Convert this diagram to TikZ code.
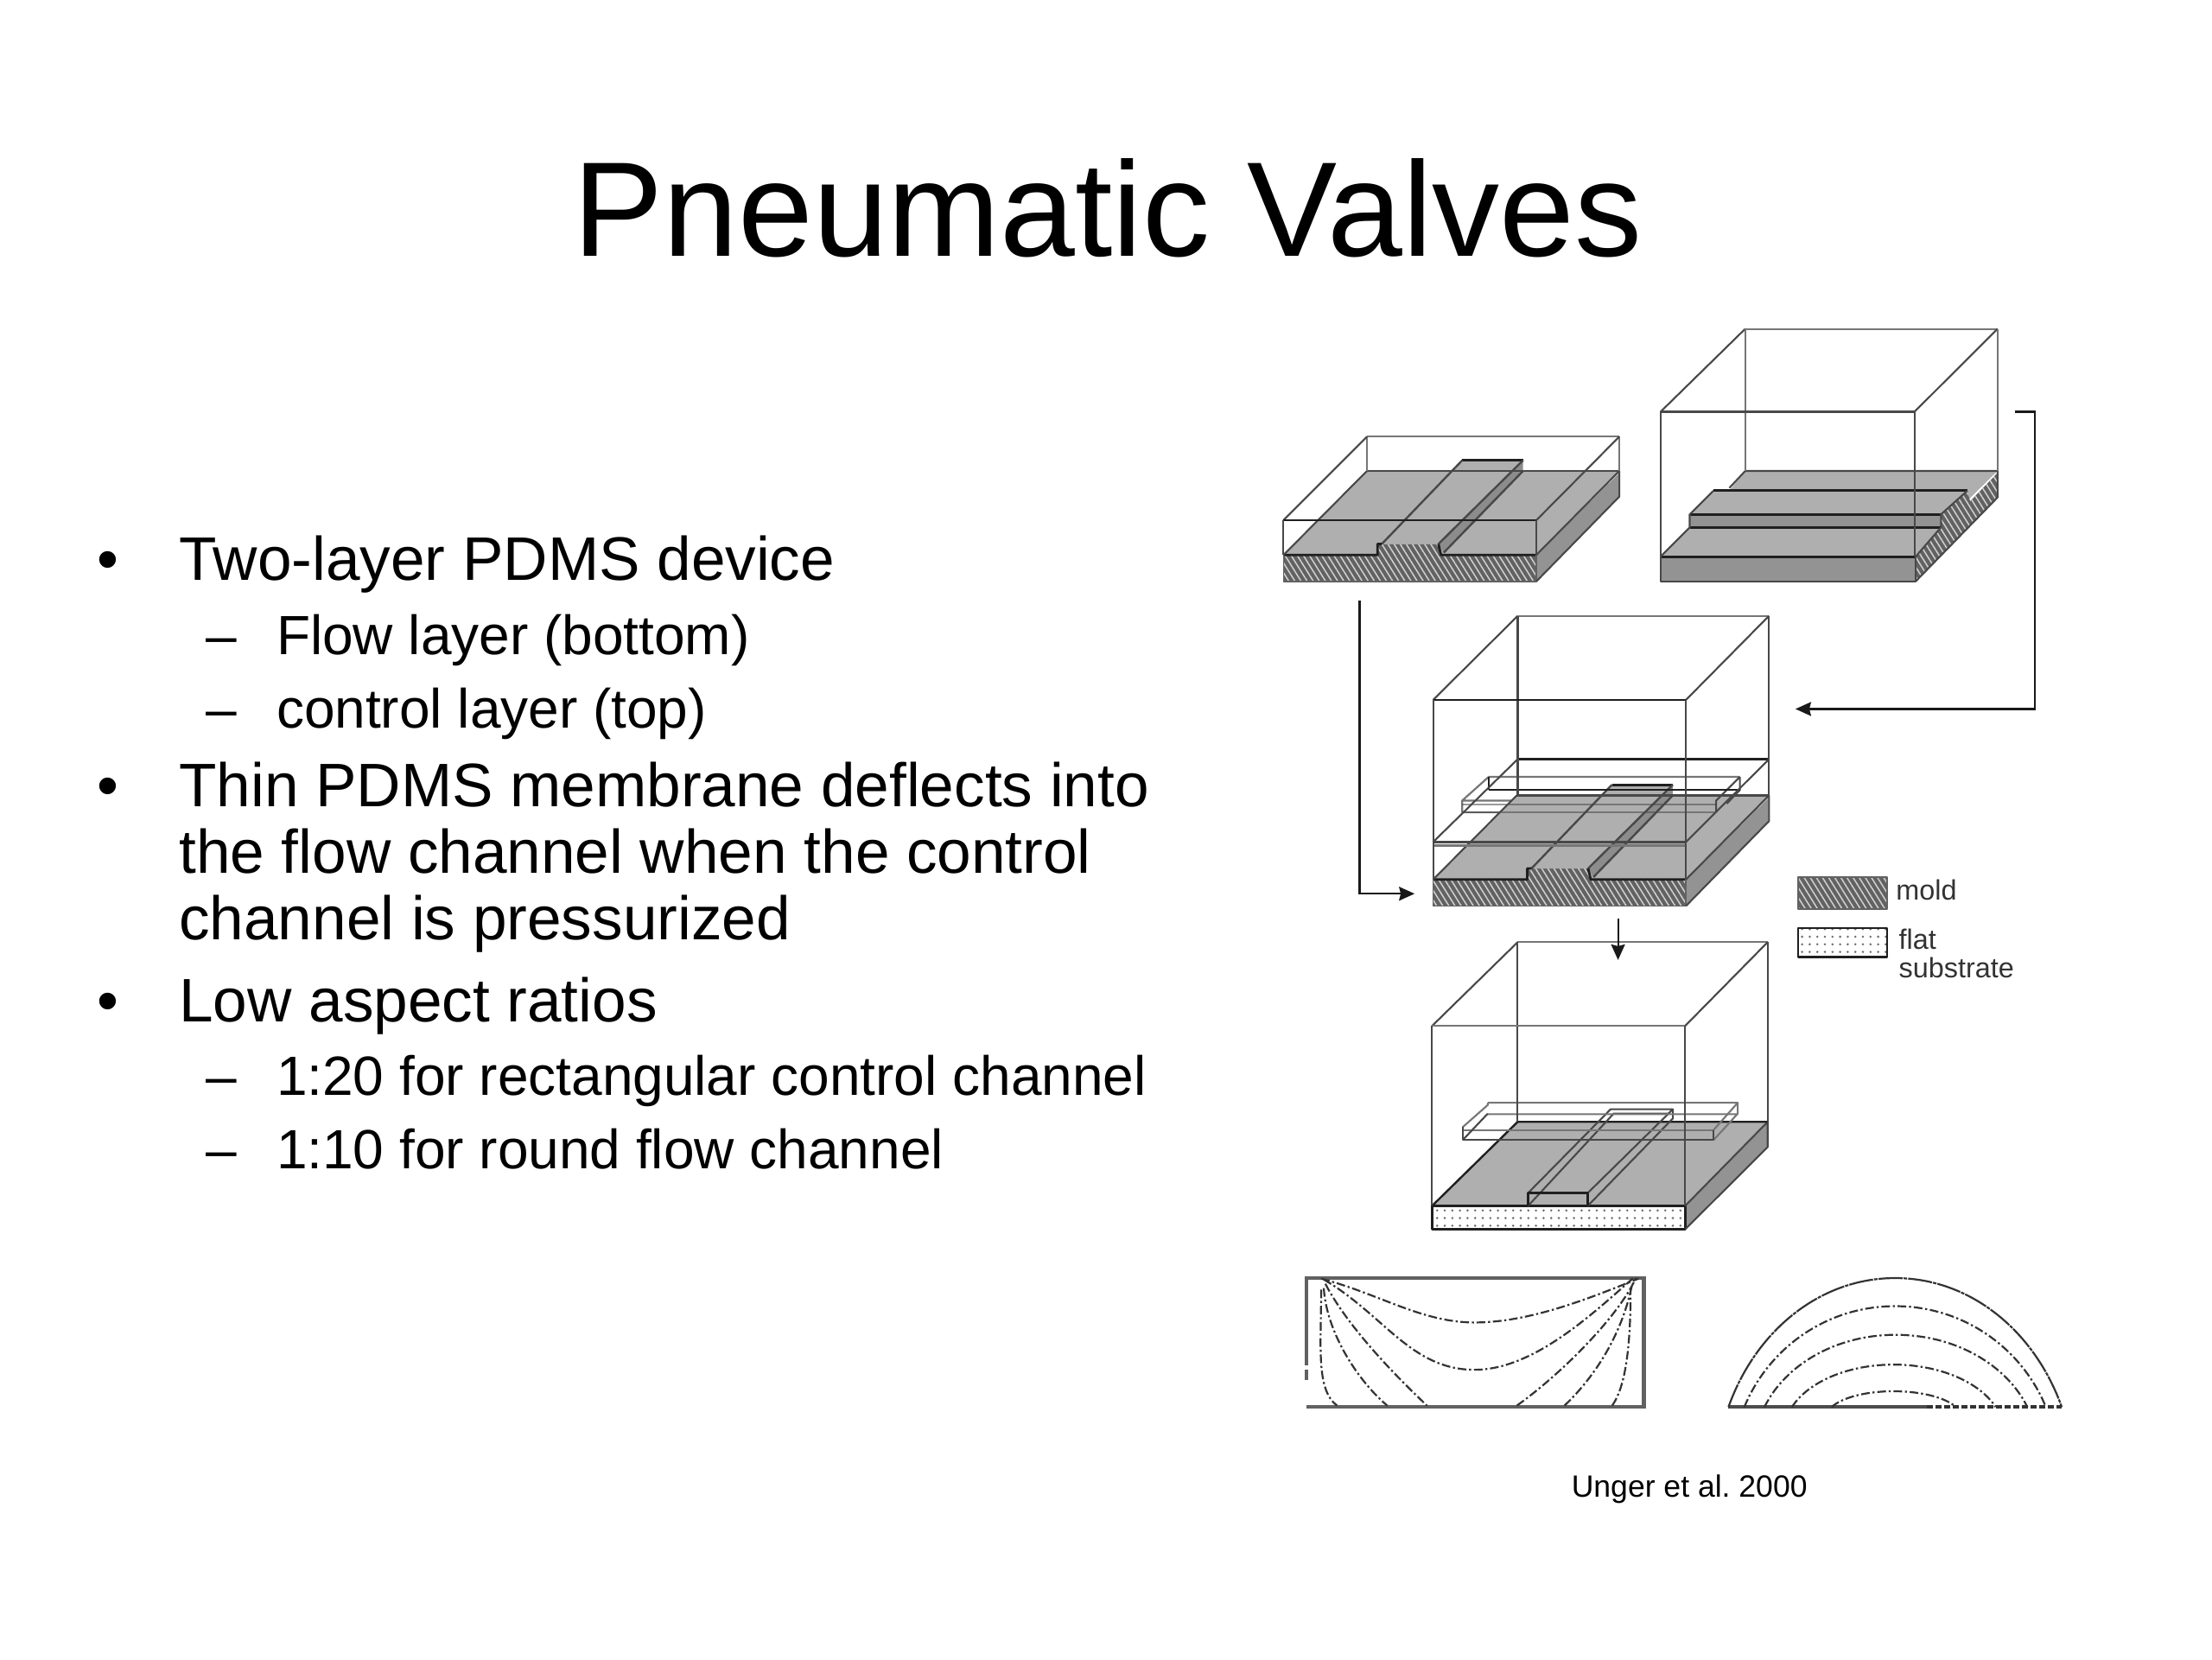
\documentclass[tikz,border=0pt]{standalone}
\usepackage{fontspec}
\setmainfont{Liberation Sans}
\usetikzlibrary{patterns.meta,arrows.meta}
\definecolor{topg}{HTML}{AFAFAF}
\definecolor{sideg}{HTML}{939393}
\definecolor{darkg}{HTML}{8C8C8C}
\definecolor{wireg}{HTML}{484848}
\definecolor{moldg}{HTML}{626262}
\tikzset{
  txt/.style={anchor=base west,inner sep=0pt,outer sep=0pt,text=black},
  titletxt/.style={txt,font=\fontsize{78}{90}\selectfont},
  bodytxt/.style={txt,font=\fontsize{35.56}{42}\selectfont},
  subtxt/.style={txt,font=\fontsize{32}{38}\selectfont},
  captxt/.style={txt,font=\fontsize{17.78}{21}\selectfont\frenchspacing},
  legtxt/.style={txt,font=\fontsize{16.2}{19}\selectfont,text=black!80},
  zoneA/.style={shift={(894,220.5)},x=0.3061pt,y=-0.2284pt},
  zoneB/.style={shift={(980,613)},x=0.2538pt,y=-0.1658pt},
  zoneC/.style={shift={(906.5,893.7)},x=0.3061pt,y=-0.1658pt},
  wire/.style={draw=wireg,line width=1.05pt,line join=round},
  wirelight/.style={draw=wireg!75,line width=1.05pt,line join=round},
  edge/.style={draw=black!88,line width=1.4pt,line join=round},
  topface/.style={fill=topg},
  sideface/.style={fill=sideg},
  moldhatch/.style={pattern={Lines[angle=-58,distance=3pt,line width=0.75pt]},pattern color=white!82!black},
  flatdots/.style={pattern={Dots[radius=0.7pt,distance=4.4pt]},pattern color=black!58},
  conn/.style={draw=black!90,line width=1.05pt,-{Stealth[length=9pt,width=8pt,inset=1pt]}},
  flowline/.style={draw=black!80,line width=1.1pt,dash pattern=on 5pt off 1.6pt on 1.2pt off 1.6pt},
  wall/.style={draw=black!62,line width=2.2pt},
}
\newcommand{\mkmoldbase}{%
  \fill[topface] (200,405) -- (677,405) -- (520,618) -- (42,618) -- cycle;
  \fill[sideface] (520,618) -- (677,410) -- (677,470) -- (520,685) -- cycle;
  \fill[moldg] (42,618) -- (220,618) -- (220,590) -- (335,590) -- (340,618) -- (520,618) -- (520,685) -- (42,685) -- cycle;
  \fill[moldhatch] (42,618) -- (220,618) -- (220,590) -- (335,590) -- (340,618) -- (520,618) -- (520,685) -- (42,685) -- cycle;
  \fill[topface] (380,378) -- (495,378) -- (335,590) -- (228,590) -- cycle;
  \fill[darkg] (495,378) -- (495,405) -- (345,612) -- (335,590) -- cycle;
  \draw[wire] (200,405) -- (677,405);
  \draw[edge] (380,378) -- (495,378);
  \draw[wire,line width=1.2pt] (495,378) -- (335,590) (228,590) -- (380,378) (495,405) -- (345,612);
  \draw[edge] (42,618) -- (220,618) -- (220,590) -- (228,590) (335,590) -- (340,618) -- (520,618);
  \draw[wire,line width=0.8pt,draw=moldg] (42,618) -- (42,685) -- (520,685) -- (520,618);
  \draw[wire] (42,618) -- (200,405) (520,618) -- (677,405) (520,685) -- (677,470) -- (677,405);
}
\begin{document}
\begin{tikzpicture}[x=0.81633pt,y=-0.81633pt]
\useasboundingbox[fill=white] (0,0) rectangle (1568,1176);

% ---- texts
\node[titletxt] (title) at (406.5,181.5) {Pneumatic Valves};
\node[bodytxt] (b1) at (127,411) {Two-layer PDMS device};
\node[bodytxt] (b1m) at (69,411) {•};
\node[subtxt] (s1) at (196,464) {Flow layer (bottom)};
\node[subtxt] (s1m) at (146,464) {–};
\node[subtxt] (s2) at (196,516) {control layer (top)};
\node[subtxt] (s2m) at (146,516) {–};
\node[bodytxt] (b2) at (127,572) {Thin PDMS membrane deflects into};
\node[bodytxt] (b2m) at (69,572) {•};
\node[bodytxt] (b2b) at (127,619) {the flow channel when the control};
\node[bodytxt] (b2c) at (127,666) {channel is pressurized};
\node[bodytxt] (b3) at (127,724) {Low aspect ratios};
\node[bodytxt] (b3m) at (69,724) {•};
\node[subtxt] (s3) at (196,776.5) {1:20 for rectangular control channel};
\node[subtxt] (s3m) at (146,776.5) {–};
\node[subtxt] (s4) at (196,828.5) {1:10 for round flow channel};
\node[subtxt] (s4m) at (146,828.5) {–};
\node[captxt] (cap) at (1114,1061) {Unger et al. 2000};
\node[legtxt] (lg1) at (1344,638) {mold};
\node[legtxt] (lg2) at (1346,673) {flat};
\node[legtxt] (lg3) at (1346,693) {substrate};

% ---- upper left box and upper right box, middle box
\begin{scope}[zoneA]
  % box 1
  \mkmoldbase
  \draw[wirelight] (200,318) -- (677,318);
  \draw[wirelight] (200,318) -- (200,405) (677,318) -- (677,405);
  \draw[wire] (42,530) -- (200,318) (520,530) -- (677,318);
  \draw[edge,line width=1.1pt] (42,530) -- (520,530);
  \draw[wire] (42,530) -- (42,618) (520,530) -- (520,618);

  % box 2
  \fill[topface] (915,405) -- (1392,405) -- (1335,480) -- (1335,455) -- (885,455) -- cycle;
  \fill[sideface] (755,622) -- (1237,622) -- (1237,685) -- (755,685) -- cycle;
  \fill[moldg] (1237,685) -- (1392,472) -- (1392,410) -- (1340,482) -- (1335,455) -- (1285,515) -- (1285,548) -- (1235,622) -- cycle;
  \fill[moldhatch] (1237,685) -- (1392,472) -- (1392,410) -- (1340,482) -- (1335,455) -- (1285,515) -- (1285,548) -- (1235,622) -- cycle;
  \fill[topface] (855,455) -- (1335,455) -- (1285,515) -- (810,515) -- cycle;
  \fill[sideg] (810,515) -- (1285,515) -- (1285,548) -- (810,548) -- cycle;
  \fill[topface] (810,548) -- (1285,548) -- (1235,620) -- (755,620) -- cycle;
  \draw[wire] (915,405) -- (1392,405) (915,405) -- (885,448);
  \draw[edge] (855,455) -- (1335,455) (810,515) -- (1285,515) (810,548) -- (1285,548) (755,622) -- (1237,622);
  \draw[wire] (755,622) -- (755,685) -- (1237,685) -- (1237,622);
  \draw[wire] (855,455) -- (810,515) -- (810,548) -- (755,622);
  \draw[wire] (1335,455) -- (1285,515) -- (1285,548) -- (1237,622);
  \draw[wire] (1237,685) -- (1392,472) -- (1392,405);
  \draw[wirelight] (915,45) -- (1392,45);
  \draw[wire] (755,255) -- (915,45) (1235,255) -- (1392,45);
  \draw[wirelight] (915,45) -- (915,405) (1392,45) -- (1392,405);
  \draw[wire] (755,255) -- (1235,255);
  \draw[wire] (755,255) -- (755,622) (1235,255) -- (1235,622);

  % box 3: floating control slab (behind the mold)
  \draw[wirelight,line width=1.1pt] (430,1180) -- (905,1180) (380,1240) -- (860,1240) (380,1270) -- (860,1270) (430,1180) -- (380,1240) -- (380,1270);
  \begin{scope}[shift={(283,822)}]
    \mkmoldbase
  \end{scope}
  \draw[wire,draw opacity=0.55,line width=1.3pt] (380,1250) -- (860,1250) (380,1270) -- (860,1270);
  \draw[wire] (905,1180) -- (860,1240) -- (860,1270) (905,1180) -- (905,1213) -- (880,1248);
  \draw[edge,line width=1.2pt] (430,1213) -- (905,1213) (430,1180) -- (430,1213);
  \draw[edge] (485,1135) -- (960,1135);
  \draw[wire] (485,1135) -- (325,1345) (960,1135) -- (803,1345);
  \draw[wire,line width=1.3pt] (325,1345) -- (803,1345);
  \draw[wirelight] (325,1354) -- (803,1354);
  \draw[wirelight] (485,772) -- (960,772);
  \draw[wire] (325,985) -- (485,772) (803,985) -- (960,772);
  \draw[wire] (485,772) -- (485,1228) (960,772) -- (960,1228);
  \draw[edge,line width=1.1pt] (325,985) -- (803,985);
  \draw[wire] (325,985) -- (325,1440) (803,985) -- (803,1440);

  % connectors
  \coordinate (la) at (186,733);
  \coordinate (lb) at (186,1476);
  \coordinate (lc) at (290,1476);
  \coordinate (ra) at (1425,255);
  \coordinate (rb) at (1462,255);
  \coordinate (rc) at (1462,1008);
  \coordinate (rd) at (1010,1008);
  \draw[conn] (la) -- (lb) -- (lc);
  \draw[conn] (ra) -- (rb) -- (rc) -- (rd);
\end{scope}

% ---- lower box and legend
\begin{scope}[zoneB]
  \fill[topface] (308,897) -- (878,897) -- (690,1190) -- (113,1190) -- cycle;
  \fill[sideface] (690,1190) -- (878,897) -- (878,985) -- (690,1272) -- cycle;
  \fill[white] (113,1190) rectangle (690,1272);
  \fill[flatdots] (113,1190) rectangle (690,1272);
  \draw[edge] (113,1190) -- (690,1190) -- (690,1272) -- (113,1272) -- cycle;
  \draw[wire] (690,1272) -- (878,985) -- (878,897) -- (690,1190);
  \draw[edge,line width=1.2pt] (113,1190) -- (308,897) -- (878,897);
  % flow channel
  \draw[wire] (332,1145) -- (520,853) -- (662,853) -- (468,1145);
  \draw[wire] (332,1190) -- (527,868) -- (655,868) (468,1190) -- (662,885) -- (662,853);
  \draw[edge,line width=1.2pt] (332,1190) -- (332,1145) -- (468,1145) -- (468,1190);
  % control slab
  \draw[wirelight] (240,830) -- (810,830) -- (755,925) (183,915) -- (240,838) -- (240,830);
  \draw[wirelight] (240,870) -- (810,870) (810,830) -- (810,868) -- (755,960);
  \draw[wirelight] (183,925) -- (755,925);
  \draw[wire,line width=1.2pt] (183,915) -- (183,960) -- (755,960) -- (755,925);
  \draw[wire] (183,960) -- (240,868);
  % wire frame
  \draw[wirelight] (308,270) -- (878,270);
  \draw[wire] (113,562) -- (308,270) (690,562) -- (878,270);
  \draw[wire] (308,270) -- (308,897) (878,270) -- (878,897);
  \draw[wirelight] (113,562) -- (690,562);
  \draw[wire] (113,562) -- (113,1190) (690,562) -- (690,1190);
  % legend
  \fill[moldg] (948,42) rectangle (1150,153);
  \fill[moldhatch] (948,42) rectangle (1150,153);
  \draw[edge,line width=1pt,draw=moldg] (948,42) rectangle (1150,153);
  \fill[flatdots] (948,220) rectangle (1150,322);
  \draw[edge,line width=1.2pt] (948,220) rectangle (1150,322);
  % connector
  \coordinate (da) at (537,187);
  \coordinate (db) at (537,332);
  \draw[conn] (da) -- (db);
\end{scope}

% ---- channel profiles
\begin{scope}[zoneC]
  \draw[wall] (52,365) -- (52,60) -- (690,60) -- (690,510) -- (52,510);
  \draw[wall] (52,380) -- (52,415);
  \draw[flowline] (80,62) .. controls (190,115) and (270,215) .. (370,215) .. controls (480,215) and (600,120) .. (680,62);
  \draw[flowline] (85,65) .. controls (200,190) and (250,380) .. (370,380) .. controls (480,380) and (590,190) .. (670,60);
  \draw[flowline] (88,80) .. controls (130,230) and (220,400) .. (280,505);
  \draw[flowline] (450,505) .. controls (530,400) and (640,200) .. (675,60);
  \draw[flowline] (85,95) .. controls (90,250) and (150,420) .. (205,505);
  \draw[flowline] (540,505) .. controls (600,400) and (650,250) .. (668,80);
  \draw[flowline] (80,100) .. controls (80,300) and (70,450) .. (110,505);
  \draw[flowline] (630,505) .. controls (660,430) and (665,250) .. (665,100);
  \draw[wall,draw=black!70] (850,510) -- (1225,510);
  \draw[flowline,dash pattern=on 3.5pt off 1.5pt,line width=1.8pt] (1225,510) -- (1480,510);
  \draw[flowline,dash pattern=on 14pt off 0.6pt on 2pt off 0.6pt] (850,510) .. controls (900,250) and (1020,60) .. (1165,60) .. controls (1310,60) and (1430,250) .. (1480,510);
  \draw[flowline] (880,510) .. controls (925,307) and (1034,158) .. (1165,158) .. controls (1296,158) and (1405,307) .. (1450,510);
  \draw[flowline] (918,510) .. controls (957,364) and (1052,258) .. (1166,258) .. controls (1280,258) and (1376,364) .. (1415,510);
  \draw[flowline] (970,510) .. controls (1000,424) and (1074,362) .. (1162,362) .. controls (1250,362) and (1325,424) .. (1355,510);
  \draw[flowline] (1045,510) .. controls (1064,478) and (1108,455) .. (1162,455) .. controls (1216,455) and (1261,478) .. (1280,510);
\end{scope}
\end{tikzpicture}
\end{document}
